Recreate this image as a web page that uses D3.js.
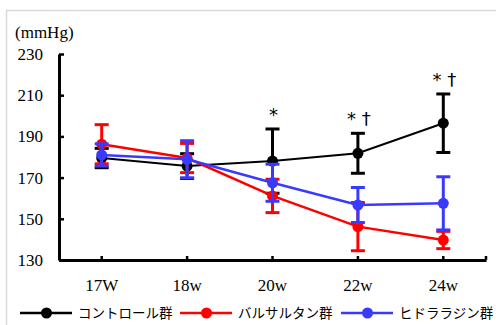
<!DOCTYPE html>
<html>
<head>
<meta charset="utf-8">
<script src="https://cdn.jsdelivr.net/npm/d3@7"></script>
<style>
  body { margin: 0; background: #fff; }
</style>
</head>
<body>
<div id="chart"></div>
<script>
var weeks = ["17W","18w","20w","22w","24w"];
var yTicks = [130,150,170,190,210,230];

var controlMean = [179.5,175.6,178.0,181.8,196.4];
var controlSd   = [4.7,6.0,15.6,9.7,14.2];
var valsMean    = [186.2,179.5,161.1,146.2,139.7];
var valsSd      = [9.5,7.1,8.1,11.7,4.2];
var hydraMean   = [181.0,178.9,167.5,156.7,157.5];
var hydraSd     = [5.4,9.0,9.0,8.5,12.9];
var marks       = ["","","*","* \u2020","* \u2020"];

var seriesNames = ["コントロール群","バルサルタン群","ヒドララジン群"];
var seriesCols  = ["#000000","#ff0000","#3a3aff"];

var svg = d3.select("#chart").append("svg")
  .attr("width",496)
  .attr("height",325);

// frame of the original figure
svg.append("rect")
  .attr("x",6.5).attr("y",10.5)
  .attr("width",520).attr("height",340)
  .attr("fill","none")
  .attr("stroke","#d9d9d9")
  .attr("stroke-width",1.5);

var x = d3.scaleBand().domain(weeks).range([59,486]).paddingInner(0).paddingOuter(0);
var y = d3.scaleLinear().domain([130,230]).range([260,54]);
var cx = function(d){ return x(d) + x.bandwidth()/2; };

var series = [
  {mean: controlMean, sd: controlSd, lw: 2},
  {mean: valsMean, sd: valsSd, lw: 2.5},
  {mean: hydraMean, sd: hydraSd, lw: 2.5}
];

// axes
var yAxis = svg.append("g")
  .attr("transform","translate(59,0)")
  .call(d3.axisLeft(y).tickValues(yTicks).tickSize(-5).tickPadding(16).tickSizeOuter(0));
yAxis.select(".domain").attr("stroke","#000").attr("stroke-width",3);
yAxis.selectAll(".tick line").attr("stroke","#000").attr("stroke-width",2.5);
yAxis.selectAll("text")
  .attr("font-family","Liberation Serif")
  .attr("font-size","17px")
  .attr("fill","#000");

var xAxis = svg.append("g")
  .attr("transform","translate(0,260)")
  .call(d3.axisBottom(x).tickSize(-4).tickPadding(19).tickSizeOuter(0));
xAxis.select(".domain").attr("stroke","#000").attr("stroke-width",3);
xAxis.selectAll(".tick line").attr("stroke","#000").attr("stroke-width",2.5);
xAxis.selectAll("text")
  .attr("font-family","Liberation Serif")
  .attr("font-size","17px")
  .attr("fill","#000");
xAxis.append("line")
  .attr("x1",486).attr("x2",486).attr("y1",0).attr("y2",-4)
  .attr("stroke","#000").attr("stroke-width",2.5);

svg.append("text")
  .attr("x",15).attr("y",38)
  .attr("font-family","Liberation Serif")
  .attr("font-size","17px")
  .text("(mmHg)");

// series
var line = d3.line().x(function(d,i){ return cx(weeks[i]); }).y(function(d){ return y(d); });

series.forEach(function(s,k){
  var g = svg.append("g");
  var col = seriesCols[k];
  weeks.forEach(function(w,i){
    var top = y(s.mean[i] + s.sd[i]), bot = y(s.mean[i] - s.sd[i]), px = cx(w);
    g.append("line").attr("x1",px).attr("x2",px).attr("y1",top).attr("y2",bot)
      .attr("stroke",col).attr("stroke-width",3);
    [top,bot].forEach(function(yy){
      g.append("line").attr("x1",px-7).attr("x2",px+7).attr("y1",yy).attr("y2",yy)
        .attr("stroke",col).attr("stroke-width",3);
    });
  });
  g.append("path").datum(s.mean)
    .attr("d",line)
    .attr("fill","none")
    .attr("stroke",col)
    .attr("stroke-width",s.lw);
  g.selectAll("circle").data(s.mean).enter().append("circle")
    .attr("cx",function(d,i){ return cx(weeks[i]); })
    .attr("cy",function(d){ return y(d); })
    .attr("r",5.5)
    .attr("fill",col);
});

// significance marks above control
weeks.forEach(function(w,i){
  if(!marks[i]) return;
  svg.append("text")
    .attr("x",cx(w) + 1)
    .attr("y",y(controlMean[i] + controlSd[i]) - 8)
    .attr("text-anchor","middle")
    .attr("font-family","DejaVu Sans")
    .attr("font-size","18px")
    .text(marks[i]);
});

// legend
var legX = [20,180,341];
seriesNames.forEach(function(n,k){
  var lg = svg.append("g").attr("transform","translate(" + legX[k] + ",313)");
  lg.append("line").attr("x1",0).attr("x2",52).attr("y1",0).attr("y2",0)
    .attr("stroke",seriesCols[k]).attr("stroke-width",2.5);
  lg.append("circle").attr("cx",26.5).attr("cy",0).attr("r",5.5).attr("fill",seriesCols[k]);
  lg.append("text").attr("x",58).attr("y",0).attr("dy","0.35em")
    .attr("font-family","Noto Sans CJK JP")
    .attr("font-size","13.5px")
    .text(n);
});
</script>
</body>
</html>
